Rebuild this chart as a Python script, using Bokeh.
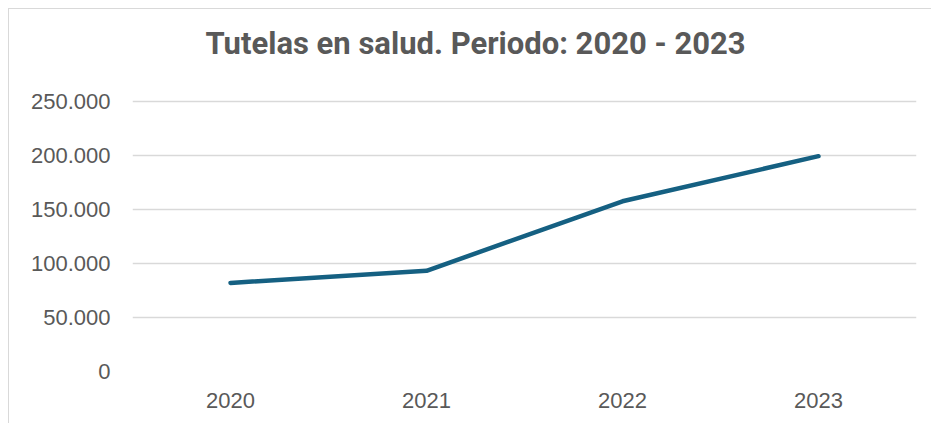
from bokeh.plotting import figure
from bokeh.models import FactorRange, Range1d, FixedTicker, Title
from bokeh.embed import file_html
from bokeh.resources import INLINE

# Data
years = ["2020", "2021", "2022", "2023"]
tutelas = [81900, 93100, 157400, 199100]
y_ticks = [0, 50000, 100000, 150000, 200000, 250000]
title_text = "Tutelas en salud. Periodo: 2020 - 2023"

TEXT = "#595959"
GRID = "#d9d9d9"
LINE = "#156082"

p = figure(width=923, height=415, x_range=FactorRange(*years, range_padding=0),
           y_range=Range1d(0, 251500), output_backend="svg", toolbar_location=None,
           min_border_left=123, min_border_right=16, min_border_top=90, min_border_bottom=53)
p.styles = {"margin-left": "8px", "margin-top": "8px",
            "border-left": "1px solid #d9d9d9", "border-top": "1px solid #d9d9d9"}

p.line(x=years, y=tutelas, line_color=LINE, line_width=4.5, line_cap="round", line_join="round")

p.outline_line_color = None
p.background_fill_color = "white"
p.border_fill_color = "white"

p.xgrid.grid_line_color = None
p.ygrid.grid_line_color = GRID
p.ygrid.grid_line_width = 1.5

p.yaxis.ticker = FixedTicker(ticks=y_ticks)
p.yaxis.major_label_overrides = {v: f"{v:,}".replace(",", ".") for v in y_ticks}
for ax in (p.xaxis, p.yaxis):
    ax.axis_line_color = None
    ax.major_tick_line_color = None
    ax.minor_tick_line_color = None
    ax.major_tick_out = 0
    ax.major_tick_in = 0
    ax.major_label_text_color = TEXT
    ax.major_label_text_font = "Liberation Sans"
    ax.major_label_text_font_size = "22px"
p.yaxis.major_label_standoff = 22
p.xaxis.major_label_standoff = 21

# real title in the default (outer) slot
p.title.text = title_text
p.title.align = "left"
p.title.offset = 73
p.title.text_font = "Roboto"
p.title.text_font_style = "bold"
p.title.text_font_size = "31px"
p.title.text_color = TEXT
p.title.standoff = 0

# spacer between the title and the plot area
spacer = Title(text=" ", text_font_size="1px", standoff=35)
p.add_layout(spacer, "above")

open("out.html", "w").write(file_html(p, INLINE))
